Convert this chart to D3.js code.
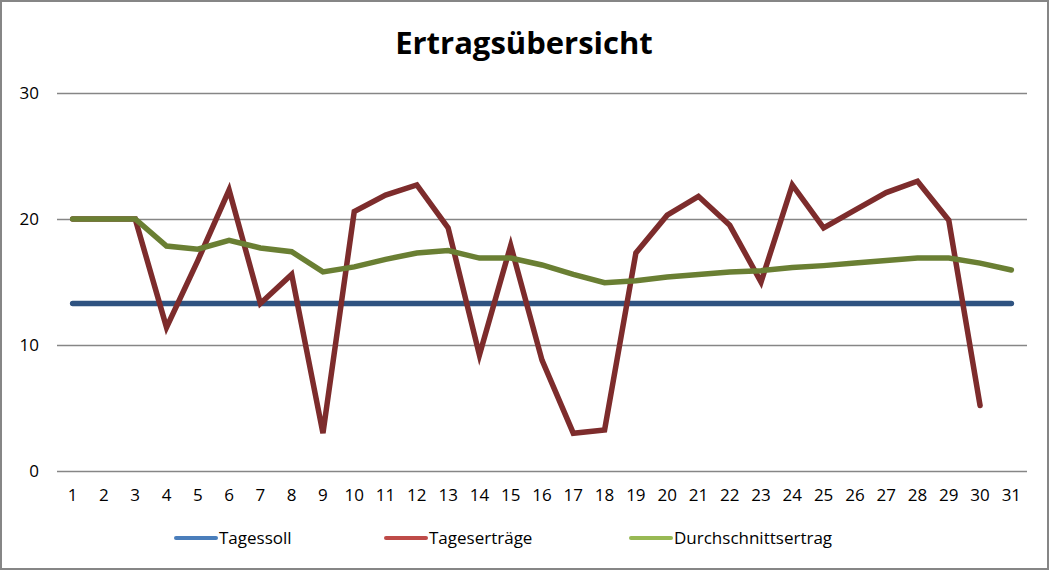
<!DOCTYPE html>
<html>
<head>
<meta charset="utf-8">
<title>Ertragsübersicht</title>
<script src="https://cdn.jsdelivr.net/npm/d3@7/dist/d3.min.js"></script>
<style>
  html, body { margin: 0; padding: 0; background: #fff; }
  svg { display: block; font-family: "Open Sans", "Noto Sans", sans-serif; }
</style>
</head>
<body>
<svg id="chart" width="1051" height="571"></svg>
<script>
// Tage 1..31
var days = d3.range(1, 32).map(String);
var yTicks = [0, 10, 20, 30];
var seriesNames = ['Tagessoll', 'Tageserträge', 'Durchschnittsertrag'];

// Tagessoll ist konstant
var tagessoll = [13.3, 13.3, 13.3, 13.3, 13.3, 13.3, 13.3, 13.3, 13.3, 13.3,
  13.3, 13.3, 13.3, 13.3, 13.3, 13.3, 13.3, 13.3, 13.3, 13.3,
  13.3, 13.3, 13.3, 13.3, 13.3, 13.3, 13.3, 13.3, 13.3, 13.3, 13.3];

// Tag 31 hat noch keinen Ertrag
var tagesertraege = [20, 20, 20, 11.4, 16.7, 22.3, 13.3, 15.6, 3.0, 20.6,
  21.9, 22.7, 19.3, 9.2, 17.9, 8.8, 3.0, 3.25, 17.3, 20.3,
  21.8, 19.5, 15.0, 22.7, 19.3, 20.7, 22.1, 23.0, 19.9, 5.2, null];

var durchschnitt = [20, 20, 20, 17.85, 17.6, 18.3, 17.7, 17.4, 15.8, 16.2,
  16.8, 17.3, 17.5, 16.9, 16.9, 16.35, 15.6, 14.95, 15.1, 15.4,
  15.6, 15.8, 15.9, 16.15, 16.3, 16.5, 16.7, 16.9, 16.9, 16.5, 15.95];

(function() {
  var svg, plot, x, y, line, series, legend, W, H, left, right, top, bottom;

  W = 1051;
  H = 571;
  left = 57;
  right = 1027;
  top = 93;
  bottom = 471;

  svg = d3.select('#chart');

  // Rahmen
  svg.append('rect').attr('x', 1).attr('y', 1).attr('width', W - 4).attr('height', H - 3)
    .attr('fill', '#fff').attr('stroke', '#868686').attr('stroke-width', 2);

  svg.append('text').text('Ertragsübersicht')
    .attr('x', 524).attr('y', 54)
    .attr('text-anchor', 'middle')
    .attr('font-size', 31).attr('font-weight', 'bold').attr('fill', '#000');

  x = d3.scaleBand().domain(days).range([left, right]);
  y = d3.scaleLinear().domain([0, 30]).range([bottom, top]);

  plot = svg.append('g');

  // Gitternetz
  plot.append('g')
    .attr('transform', 'translate(' + left + ',0)')
    .call(d3.axisLeft(y).tickValues(yTicks).tickSize(-(right - left)).tickSizeOuter(0).tickPadding(18))
    .call(function(g) {
      g.select('.domain').remove();
      g.selectAll('.tick line').attr('stroke', '#868686').attr('stroke-width', 1.5);
      g.selectAll('.tick text').attr('font-size', 17).attr('fill', '#000')
        .attr('font-family', '"Open Sans", sans-serif');
    });

  plot.append('g')
    .attr('transform', 'translate(0,' + bottom + ')')
    .call(d3.axisBottom(x).tickSize(0).tickPadding(18))
    .call(function(g) {
      g.select('.domain').remove();
      g.selectAll('.tick text').attr('font-size', 17).attr('fill', '#000')
        .attr('font-family', '"Open Sans", sans-serif');
    });

  line = d3.line()
    .defined(function(d) { return d != null; })
    .x(function(d, i) { return x(days[i]) + x.bandwidth() / 2; })
    .y(function(d) { return y(d); });

  series = [
    { name: seriesNames[0], values: tagessoll, stroke: '#2f5381', key: '#4a7ebb' },
    { name: seriesNames[1], values: tagesertraege, stroke: '#7d2c2c', key: '#be4b48' },
    { name: seriesNames[2], values: durchschnitt, stroke: '#6a7f33', key: '#98b954' }
  ];

  plot.selectAll('path.series')
    .data(series)
    .enter().append('path')
    .attr('class', 'series')
    .attr('d', function(s) { return line(s.values); })
    .attr('fill', 'none')
    .attr('stroke', function(s) { return s.stroke; })
    .attr('stroke-width', 5.5)
    .attr('stroke-linecap', 'round')
    .attr('stroke-linejoin', 'miter');

  // Legende
  var legendX = [174, 384, 629];
  legend = svg.selectAll('g.legend')
    .data(series)
    .enter().append('g')
    .attr('class', 'legend')
    .attr('transform', function(s, i) { return 'translate(' + legendX[i] + ',538)'; });

  legend.append('line')
    .attr('x1', 2).attr('x2', 42).attr('y1', 0).attr('y2', 0)
    .attr('stroke', function(s) { return s.key; })
    .attr('stroke-width', 4)
    .attr('stroke-linecap', 'round');

  legend.append('text')
    .text(function(s) { return s.name; })
    .attr('x', 45).attr('y', 6)
    .attr('font-size', 17).attr('fill', '#000');
}).call(this);
</script>
</body>
</html>
